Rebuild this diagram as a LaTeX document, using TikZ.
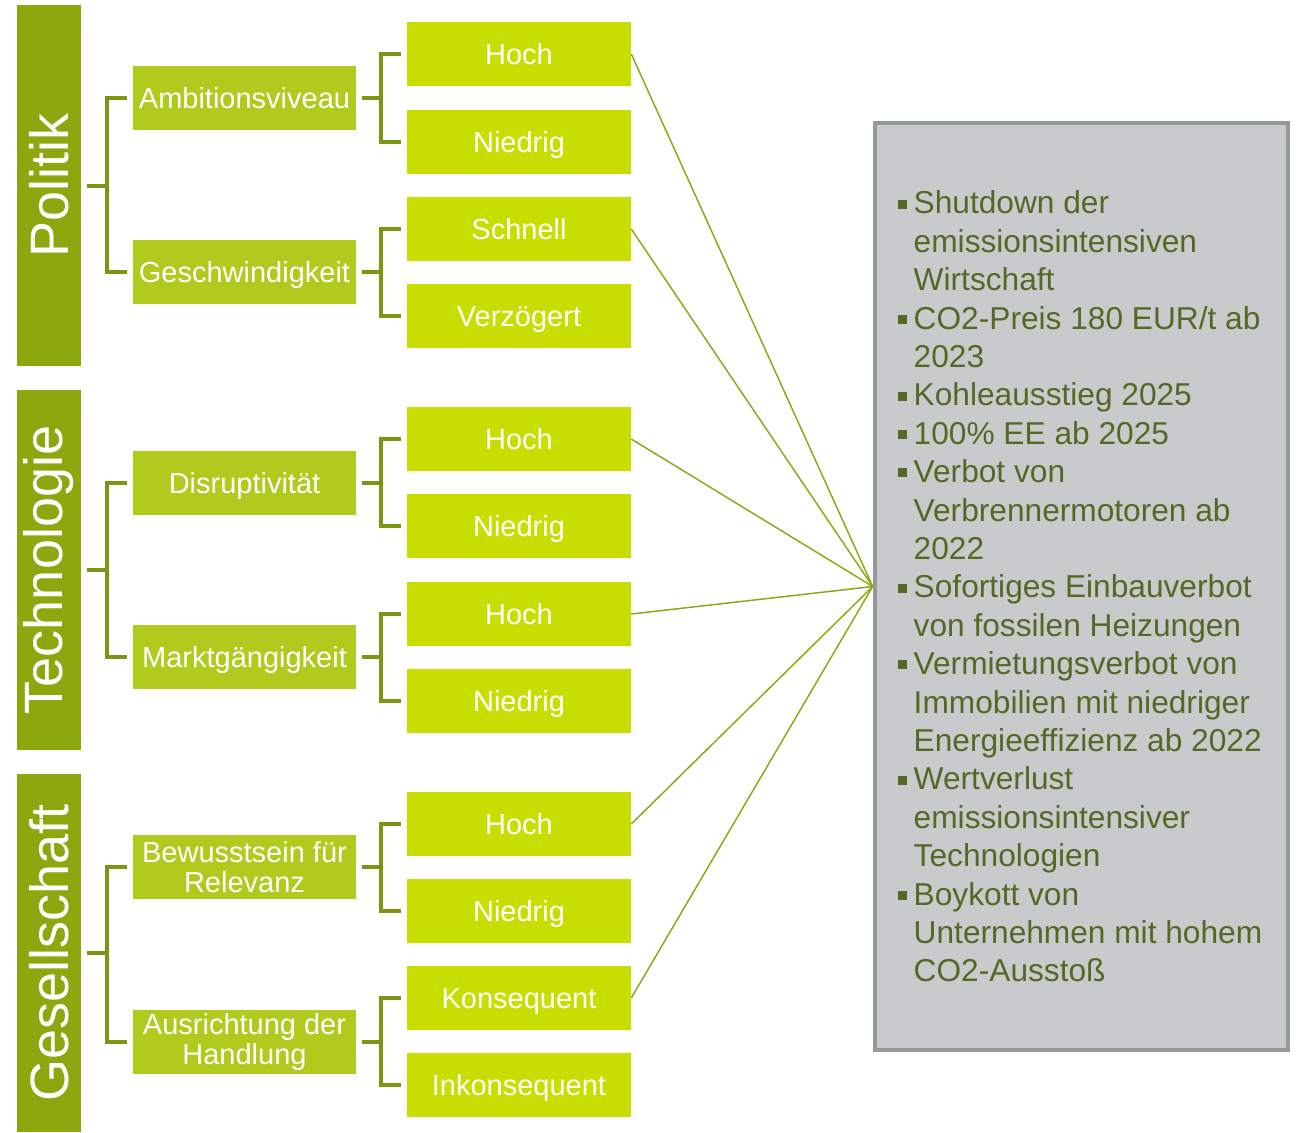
\documentclass[tikz,border=0pt]{standalone}
\usepackage{fontspec}
\setmainfont{Liberation Sans}
\usepackage{graphicx}
\usetikzlibrary{calc}

\definecolor{bargreen}{RGB}{141,168,14}
\definecolor{midgreen}{RGB}{176,202,30}
\definecolor{optgreen}{RGB}{200,222,0}
\definecolor{brkgreen}{RGB}{122,150,18}
\definecolor{linkgreen}{RGB}{140,168,20}
\definecolor{infogray}{RGB}{200,203,204}
\definecolor{infoframe}{RGB}{150,153,153}
\definecolor{infotext}{RGB}{86,104,38}

\newcommand{\sqbullet}{\makebox[11.6pt][l]{\raisebox{3.9pt}{\rule{6.75pt}{6.75pt}}}}
\newcommand{\listind}{\hspace*{11.6pt}}

\begin{document}
\begin{tikzpicture}[x=0.75pt,y=-0.75pt,
  bar/.style={fill=bargreen,text=white,inner sep=0,minimum width=48pt,font=\fontsize{40.5}{40.5}\selectfont},
  factor/.style={fill=midgreen,text=white,inner sep=0,minimum width=167.25pt,minimum height=48pt,align=center,font=\fontsize{21.75}{22.5}\selectfont},
  one/.style={text height=15.6pt,text depth=0pt},
  opt/.style={fill=optgreen,text=white,inner sep=0,minimum width=168pt,minimum height=48pt,text height=15.6pt,text depth=0pt,font=\fontsize{21.75}{22.5}\selectfont},
  brk/.style={draw=brkgreen,line width=3pt},
  link/.style={draw=linkgreen,line width=1.1pt}]
\useasboundingbox (0,0) rectangle (1305,1132);

% dimensions
\node[bar,minimum height=270.75pt] (pol) at (49,185.5) {\rotatebox{90}{Politik}};
\node[bar,minimum height=270pt] (tec) at (49,570) {\rotatebox{90}{Technologie}};
\node[bar,minimum height=268.5pt] (gsl) at (49,953) {\rotatebox{90}{Gesellschaft}};

% factors
\node[factor,one] (amb) at (244.5,98) {Ambitionsviveau};
\node[factor,one] (ges) at (244.5,272) {Geschwindigkeit};
\node[factor,one] (dis) at (244.5,483) {Disruptivität};
\node[factor,one] (mkt) at (244.5,657) {Marktgängigkeit};
\node[factor] (bew) at (244.5,867) {Bewusstsein für\\Relevanz};
\node[factor] (aus) at (244.5,1042) {Ausrichtung der\\Handlung};

% options
\foreach \nm/\yy/\txt in {a1/54/Hoch, a2/142/Niedrig, b1/229/Schnell, b2/316/Verzögert,
  c1/439/Hoch, c2/526/Niedrig, d1/614/Hoch, d2/701/Niedrig,
  e1/824/Hoch, e2/911/Niedrig, f1/998/Konsequent, f2/1085/Inkonsequent}
  \node[opt] (\nm) at (519,\yy) {\txt};

% brackets
\foreach \p/\a/\b in {pol/amb/ges, tec/dis/mkt, gsl/bew/aus} {
  \draw[brk] ($(\p.east)+(6,0)$) -- ($(\p.east)+(26,0)$);
  \draw[brk] ($(\a.west)-(6,0)$) -| ($(\p.east)+(26,0)$) |- ($(\b.west)-(6,0)$);
}
\foreach \f/\a/\b in {amb/a1/a2, ges/b1/b2, dis/c1/c2, mkt/d1/d2, bew/e1/e2, aus/f1/f2} {
  \draw[brk] ($(\f.east)+(6,0)$) -- ($(\f.east)+(25,0)$);
  \draw[brk] ($(\a.west)-(6,0)$) -| ($(\f.east)+(25,0)$) |- ($(\b.west)-(6,0)$);
}

% scenario box
\node[fill=infogray,draw=infoframe,line width=3.5pt,minimum width=309.75pt,minimum height=695.25pt] (info) at (1081.5,586.5) {};
\coordinate (hub) at (info.west);
\foreach \o in {a1,b1,c1,d1,e1,f1}
  \draw[link] (\o.east) -- (hub);

\node[anchor=west,inner sep=0,align=left,text=infotext,font=\fontsize{23.75}{28.8}\selectfont] (measures) at (898,586.5) {%
\sqbullet Shutdown der\\ \listind emissionsintensiven\\ \listind Wirtschaft\\
\sqbullet CO2-Preis 180 EUR/t ab\\ \listind 2023\\
\sqbullet Kohleausstieg 2025\\
\sqbullet 100\% EE ab 2025\\
\sqbullet Verbot von\\ \listind Verbrennermotoren ab\\ \listind 2022\\
\sqbullet Sofortiges Einbauverbot\\ \listind von fossilen Heizungen\\
\sqbullet Vermietungsverbot von\\ \listind Immobilien mit niedriger\\ \listind Energieeffizienz ab 2022\\
\sqbullet Wertverlust\\ \listind emissionsintensiver\\ \listind Technologien\\
\sqbullet Boykott von\\ \listind Unternehmen mit hohem\\ \listind CO2-Ausstoß};
\end{tikzpicture}
\end{document}
